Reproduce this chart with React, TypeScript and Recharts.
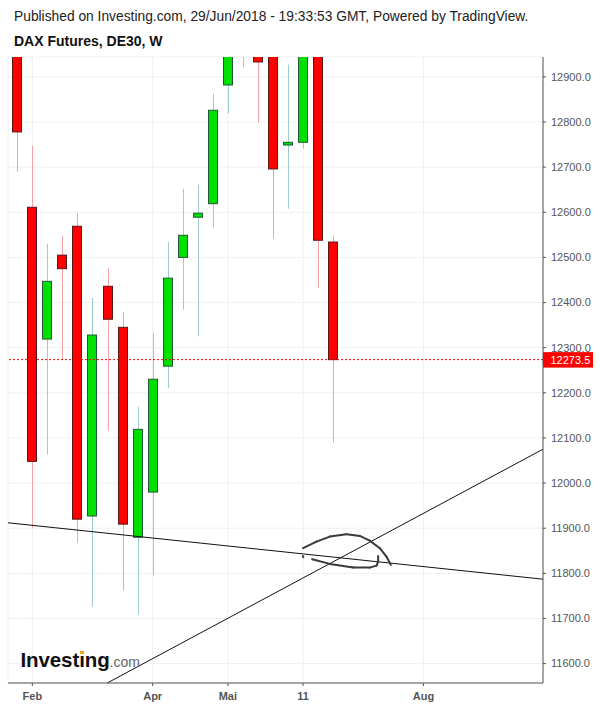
import React from 'react';
import { ComposedChart, Bar, XAxis, YAxis, CartesianGrid, ReferenceLine } from 'recharts';

// Weekly candles (index 0 = week of 29 Jan 2018)
const weekIndex = [0, 1, 2, 3, 4, 5, 6, 7, 8, 9, 10, 11, 12, 13, 14, 15, 16, 17, 18, 19, 20, 21];
const opens = [13320, 12611, 12319, 12505, 12569, 11927, 12436, 12345, 11880, 11980, 12259, 12500, 12589, 12619, 12882, 13005, 13080, 12960, 12749, 12755, 13000, 12534];
const highs = [13380, 12747, 12530, 12548, 12599, 12410, 12477, 12379, 12169, 12333, 12534, 12652, 12661, 12862, 13030, 13200, 13205, 13010, 12927, 13170, 13060, 12548];
const lows = [12690, 11901, 12063, 12275, 11868, 11726, 12116, 11762, 11709, 11795, 12211, 12384, 12325, 12566, 12819, 12921, 12799, 12542, 12608, 12741, 12433, 12090];
const closes = [12778, 12048, 12447, 12475, 11920, 12328, 12363, 11909, 12119, 12230, 12454, 12549, 12598, 12826, 13000, 13080, 12933, 12696, 12755, 13010, 12538, 12273.5];

const xTickIndex = [1, 9, 14, 19, 27];
const xTickLabels = ['Feb', 'Apr', 'Mai', '11', 'Aug'];
const yTicks = [11600, 11700, 11800, 11900, 12000, 12100, 12200, 12300, 12400, 12500, 12600, 12700, 12800, 12900];
const xDomain = [-0.618, 34.95];
const yDomain = [11557, 12944];
const lastPrice = 12273.5;

// Trend lines (index, price)
const trendDown = [{ x: -0.618, y: 11912 }, { x: 34.95, y: 11787 }];
const trendUp = [{ x: 5.98, y: 11557 }, { x: 34.95, y: 12075 }];

// Hand-drawn annotation
const scribbleArc = [
  { x: 19.0, y: 11855.7 }, { x: 19.89, y: 11870.3 }, { x: 20.78, y: 11881.4 }, { x: 21.89, y: 11886.7 },
  { x: 22.77, y: 11882.9 }, { x: 23.43, y: 11872.5 }, { x: 24.1, y: 11855.7 }, { x: 24.54, y: 11837.1 },
  { x: 24.83, y: 11818.7 },
];
const scribbleHook = [
  { x: 19.6, y: 11831.3 }, { x: 20.78, y: 11820.9 }, { x: 22.33, y: 11812.7 }, { x: 23.43, y: 11812.7 },
  { x: 23.88, y: 11817.1 }, { x: 23.99, y: 11826 }, { x: 23.99, y: 11838.6 },
];
const scribbleDot = [{ x: 18.98, y: 11838 }, { x: 19.02, y: 11836 }];

const data = weekIndex.map((i, k) => ({
  i,
  o: opens[k],
  h: highs[k],
  l: lows[k],
  c: closes[k],
  range: [lows[k], highs[k]],
}));

const UP_FILL = '#00e000';
const UP_BORDER = '#215a35';
const UP_WICK = '#9ccbd0';
const DOWN_FILL = '#ff0000';
const DOWN_BORDER = '#5a1717';
const DOWN_WICK = '#f4a1aa';
const FONT = '"Liberation Sans", Arial, sans-serif';

const Candle = (props: any) => {
  const { x, y, width, height, payload } = props;
  if (x == null || y == null || !payload) return <g />;
  const { o, h, l, c } = payload;
  const top = Math.min(y, y + height);
  const span = Math.abs(height);
  const py = (v: number) => top + ((h - v) / (h - l)) * span;
  const cx = Math.round(x + width / 2 - 0.5) + 0.5;
  const up = c >= o;
  const bt = py(Math.max(o, c));
  const bb = py(Math.min(o, c));
  return (
    <g>
      <line x1={cx} x2={cx} y1={top} y2={top + span} stroke={up ? UP_WICK : DOWN_WICK} strokeWidth={1} />
      <rect
        x={cx - 5}
        y={bt}
        width={9}
        height={Math.max(bb - bt, 2)}
        fill={up ? UP_FILL : DOWN_FILL}
        stroke={up ? UP_BORDER : DOWN_BORDER}
        strokeWidth={1}
      />
    </g>
  );
};

const PriceLabel = (props: any) => {
  const vb = props.viewBox || {};
  const lx = (vb.x || 0) + (vb.width || 0);
  const ly = vb.y || 0;
  return (
    <g>
      <rect x={lx} y={ly - 7.5} width={50} height={15.5} fill="#ff0000" />
      <text x={lx + 7.5} y={ly + 4} fill="#ffffff" fontSize={11} fontFamily={FONT}>
        {lastPrice.toFixed(1)}
      </text>
    </g>
  );
};

const segmentsOf = (pts: { x: number; y: number }[]) => pts.slice(1).map((p, k) => [pts[k], p]);

export default function App() {
  const scribbleSegs = [...segmentsOf(scribbleArc), ...segmentsOf(scribbleHook), ...segmentsOf(scribbleDot)];
  return (
    <div style={{ position: 'absolute', left: 0, top: 0, width: 600, height: 708, background: '#fff', overflow: 'hidden', fontFamily: FONT }}>
      <div style={{ position: 'absolute', left: 14, top: 9, fontSize: 13.8, lineHeight: '16px', color: '#222', whiteSpace: 'nowrap' }}>
        Published on Investing.com, 29/Jun/2018 - 19:33:53 GMT, Powered by TradingView.
      </div>
      <div style={{ position: 'absolute', left: 14, top: 33, fontSize: 14, lineHeight: '16px', fontWeight: 'bold', color: '#111', whiteSpace: 'nowrap' }}>
        DAX Futures, DE30, W
      </div>
      <div style={{ position: 'absolute', left: 0, top: 0 }}>
        <ComposedChart width={600} height={708} data={data} margin={{ top: 57, right: 0, bottom: 0, left: 8 }}>
          <CartesianGrid stroke="#f0f0f0" strokeWidth={1} />
          <XAxis
            dataKey="i"
            type="number"
            domain={xDomain}
            allowDataOverflow
            ticks={xTickIndex}
            interval={0}
            tickFormatter={(v: number) => xTickLabels[xTickIndex.indexOf(v)] ?? ''}
            height={25}
            tickSize={3}
            tickMargin={6}
            axisLine={{ stroke: '#555' }}
            tickLine={{ stroke: '#555' }}
            tick={{ fill: '#555', fontSize: 11, fontWeight: 'bold', fontFamily: FONT }}
          />
          <YAxis
            orientation="right"
            type="number"
            domain={yDomain}
            allowDataOverflow
            ticks={yTicks}
            interval={0}
            width={57}
            tickFormatter={(v: number) => v.toFixed(1)}
            tickSize={3}
            tickMargin={5}
            axisLine={{ stroke: '#555' }}
            tickLine={{ stroke: '#555' }}
            tick={{ fill: '#555', fontSize: 11, fontFamily: FONT, textAnchor: 'start' }}
          />
          <Bar dataKey="range" barSize={10} shape={Candle} isAnimationActive={false} />
          <ReferenceLine segment={trendDown} stroke="#111" strokeWidth={1} ifOverflow="visible" />
          <ReferenceLine segment={trendUp} stroke="#111" strokeWidth={1} ifOverflow="visible" />
          {scribbleSegs.map((s, k) => (
            <ReferenceLine
              key={k}
              segment={s}
              stroke="#3a3a3a"
              strokeWidth={2}
              strokeLinecap="round"
              ifOverflow="visible"
            />
          ))}
          <ReferenceLine
            y={lastPrice}
            stroke="#ff0000"
            strokeDasharray="2 2"
            strokeWidth={1}
            label={<PriceLabel />}
          />
        </ComposedChart>
      </div>
      <div style={{ position: 'absolute', left: 20.5, top: 650, lineHeight: '20px', whiteSpace: 'nowrap', pointerEvents: 'none' }}>
        <span style={{ fontSize: 20.5, fontWeight: 'bold', color: '#111', letterSpacing: -0.1 }}>Investing</span>
        <span style={{ fontSize: 14, color: '#666' }}>.com</span>
      </div>
      <div style={{ position: 'absolute', left: 80, top: 650.5, width: 3.5, height: 3.5, background: '#f5a31a' }} />
    </div>
  );
}
